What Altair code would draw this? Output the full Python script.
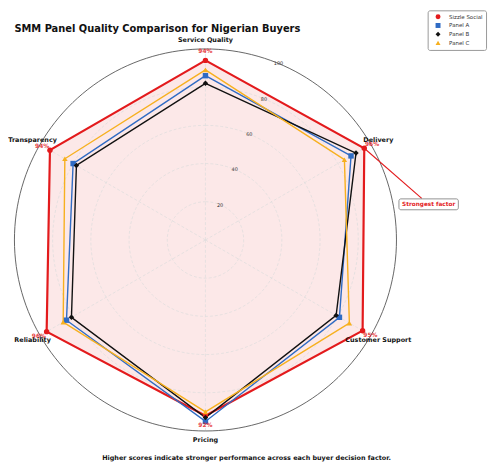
import altair as alt
import pandas as pd
import numpy as np

factors = ["Service Quality", "Delivery", "Customer Support", "Pricing", "Reliability", "Transparency"]
series_names = ["Sizzle Social", "Panel A", "Panel B", "Panel C"]
sizzle = [94, 96, 95, 92, 96, 94]
panel_a = [86, 88, 81, 95, 84, 80]
panel_b = [82, 91, 79, 93, 81, 78]
panel_c = [89, 84, 87, 90, 86, 85]
radial_ticks = [20, 40, 60, 80, 100]
colors = ["#e31a1c", "#2f6bc4", "#111111", "#f7b01e"]
markers = ["circle", "square", "diamond", "triangle-up"]
line_widths = [2.2, 1.4, 1.4, 1.4]
title_text = "SMM Panel Quality Comparison for Nigerian Buyers"
caption_text = "Higher scores indicate stronger performance across each buyer decision factor."
note_text = "Strongest factor"

FONT = "DejaVu Sans"
N = len(factors)

rows = []
for s, vals in zip(series_names, [sizzle, panel_a, panel_b, panel_c]):
    for i in range(N + 1):
        k = i % N
        rows.append({"series": s, "factor": factors[k], "idx": k, "ord": i, "value": vals[k]})
df = pd.DataFrame(rows)

grid_rows = []
for lv in radial_ticks:
    for a in range(0, 362, 2):
        grid_rows.append({"level": lv, "ang": a})
grid_df = pd.DataFrame(grid_rows)
fac_df = pd.DataFrame({"factor": factors, "idx": list(range(N))})
tick_df = pd.DataFrame({"tick": radial_ticks})

XS = alt.Scale(domain=[-100, 100], nice=False, zero=False)
YS = alt.Scale(domain=[-100, 100], nice=False, zero=False)

def X(f):
    return alt.X(f, type="quantitative", scale=XS, axis=None)

def Y(f):
    return alt.Y(f, type="quantitative", scale=YS, axis=None)

polar = dict(x=f"datum.value * sin(datum.idx * 2 * PI / {N})", y=f"datum.value * cos(datum.idx * 2 * PI / {N})")

base = alt.Chart(df).transform_calculate(**polar)

grid_base = alt.Chart(grid_df).transform_calculate(
    x="datum.level * sin(datum.ang * PI / 180)", y="datum.level * cos(datum.ang * PI / 180)"
)
inner_grid = grid_base.transform_filter("datum.level < 100").mark_line(
    color="#dcdcdc", strokeWidth=0.7, strokeDash=[3, 2]
).encode(x=X("x"), y=Y("y"), detail="level:N", order="ang:Q")
outer_grid = grid_base.transform_filter("datum.level == 100").mark_line(
    color="#555555", strokeWidth=0.9
).encode(x=X("x"), y=Y("y"), detail="level:N", order="ang:Q")

spokes = alt.Chart(fac_df).transform_calculate(
    x0="0", y0="0",
    xe=f"100 * sin(datum.idx * 2 * PI / {N})", ye=f"100 * cos(datum.idx * 2 * PI / {N})"
).mark_rule(color="#dcdcdc", strokeWidth=0.7, strokeDash=[3, 2]).encode(
    x=X("x0"), y=Y("y0"), x2="xe:Q", y2="ye:Q"
)

fill = base.transform_filter(alt.datum.series == "Sizzle Social").mark_line(
    fill="#e31a1c", fillOpacity=0.1, strokeOpacity=0
).encode(x=X("x"), y=Y("y"), order="ord:Q")

line_layers = [
    base.transform_filter(f"datum.series == '{s}'").mark_line(
        strokeJoin="miter", color=c, strokeWidth=w
    ).encode(x=X("x"), y=Y("y"), order="ord:Q")
    for s, c, w in zip(series_names, colors, line_widths)
]

leg = alt.Legend(
    title=None, orient="none", legendX=417.5, legendY=-39,
    labelFont=FONT, labelFontSize=5.5, labelColor="#333333",
    symbolSize=25, symbolOffset=4, rowPadding=1.8, padding=3, labelOffset=7.7,
    strokeColor="#999999", cornerRadius=2, fillColor="white",
)

points = base.transform_filter("datum.ord < 6").mark_point(filled=True, opacity=1, size=30).encode(
    x=X("x"), y=Y("y"),
    color=alt.Color("series:N", scale=alt.Scale(domain=series_names, range=colors), legend=leg),
    shape=alt.Shape("series:N", scale=alt.Scale(domain=series_names, range=markers), legend=leg),
)

pct = alt.Chart(df).transform_filter(
    "datum.series == 'Sizzle Social' && datum.ord < 6"
).transform_calculate(
    r="datum.value + 4.7",
    x=f"datum.r * sin(datum.idx * 2 * PI / {N})", y=f"datum.r * cos(datum.idx * 2 * PI / {N})",
    lab="datum.value + '%'",
).mark_text(font=FONT, fontSize=6, fontWeight="bold", color="#e31a1c", opacity=0.85, baseline="middle", align="center").encode(
    x=X("x"), y=Y("y"), text="lab:N"
)

fac_labels = alt.Chart(fac_df).transform_calculate(
    x=f"104.5 * sin(datum.idx * 2 * PI / {N})", y=f"104.5 * cos(datum.idx * 2 * PI / {N})"
).mark_text(font=FONT, fontSize=6.5, fontWeight="bold", color="#111111", baseline="middle", align="center").encode(
    x=X("x"), y=Y("y"), text="factor:N"
)

tick_labels = alt.Chart(tick_df).transform_calculate(
    x="datum.tick * sin(PI / 8)", y="datum.tick * cos(PI / 8)"
).mark_text(font=FONT, fontSize=5, color="#333333", baseline="middle", align="center").encode(
    x=X("x"), y=Y("y"), text="tick:Q"
)

note_line = base.transform_filter(
    "datum.series == 'Sizzle Social' && datum.factor == 'Delivery' && datum.ord < 6"
).mark_rule(color="#e31a1c", strokeWidth=1.1).encode(
    x=X("x"), y=Y("y"), x2=alt.value(411.5), y2=alt.value(151)
)
note_box = alt.Chart(pd.DataFrame({"t": [note_text]})).mark_rect(
    fill="white", stroke="#777777", strokeWidth=0.8, cornerRadius=2
).encode(x=alt.value(388.5), x2=alt.value(448.5), y=alt.value(151.5), y2=alt.value(162.5))
note_txt = alt.Chart(pd.DataFrame({"t": [note_text]})).mark_text(
    font=FONT, fontSize=5.8, fontWeight="bold", color="#e31a1c", baseline="middle", align="center"
).encode(x=alt.value(418.5), y=alt.value(157), text="t:N")

title_mark = alt.Chart(pd.DataFrame({"t": [title_text]})).mark_text(
    font=FONT, fontSize=10, fontWeight="bold", color="#111111", baseline="middle", align="left"
).encode(x=alt.value(0), y=alt.value(-20), text="t:N")

caption = alt.Chart(pd.DataFrame({"t": [caption_text]})).mark_text(
    font=FONT, fontSize=6.5, fontWeight="bold", color="#111111", baseline="middle", align="center"
).encode(x=alt.value(234.5), y=alt.value(413), text="t:N")

chart = alt.layer(
    fill, inner_grid, spokes, outer_grid, *line_layers, points, pct, fac_labels, tick_labels,
    note_line, note_box, note_txt, title_mark, caption
).properties(
    width=386, height=386,
    padding={"left": 6.5, "top": 39, "right": 94.5, "bottom": 31},
    autosize=alt.AutoSizeParams(type="none"),
).configure_view(stroke=None)

chart.save("out.html", embed_options={"renderer": "svg", "actions": False})
